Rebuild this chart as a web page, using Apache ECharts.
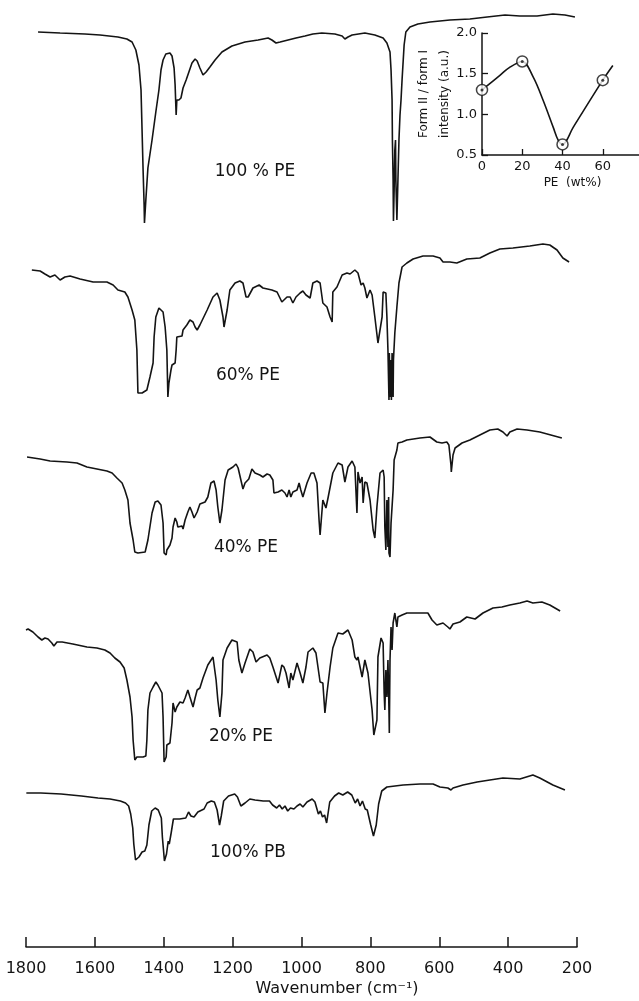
<!DOCTYPE html>
<html>
<head>
<meta charset="utf-8">
<script src="https://cdn.jsdelivr.net/npm/echarts@6/dist/echarts.min.js"></script>
<style>html,body{margin:0;padding:0;background:#fff}#c{width:639px;height:1001px}</style>
</head>
<body>
<div id="c"></div>
<script>
// ---- data: [wavenumber (cm-1), relative transmittance] ----
const wavenumberTicks = [1800, 1600, 1400, 1200, 1000, 800, 600, 400, 200];
const spectrumLabels = ['100 % PE', '60% PE', '40% PE', '20% PE', '100% PB'];

const pe100 = [[1765,99],[1701,98.5],[1629,98],[1585,97.5],[1533,96.5],[1507,95.5],[1492,94],[1481,90],[1472,82.5],[1466,70],[1463,50],[1460,30],[1457,12.5],[1456,3.5],[1452,15],[1446,31],[1434,45],[1423,59],[1414,70],[1408,80],[1402,85],[1394,88],[1382,88.5],[1376,87],[1370,81],[1367,72.5],[1364,57.5],[1362,65],[1356,65],[1350,66],[1344,71],[1335,75],[1327,79],[1318,83.5],[1309,85.5],[1303,84.5],[1295,81],[1286,77.5],[1277,79],[1266,81.5],[1251,85],[1231,89],[1202,92],[1164,94],[1126,95],[1097,96],[1086,95],[1074,93.5],[1062,94],[1039,95],[1016,96],[990,97],[967,98],[941,98.5],[903,98],[882,97],[874,95.5],[865,96.5],[853,97.5],[816,98.5],[787,97.5],[763,96],[752,93.5],[743,89],[740,80],[737,65],[736,45],[734,25],[733,4.5],[731,20],[729,40],[727,45],[726,25],[723,5],[720,25],[717,45],[714,57.5],[711,65],[708,75],[702,92.5],[697,99],[685,101.5],[662,103],[627,104],[569,105],[511,105.5],[461,106.5],[409,107.5],[366,107],[316,107],[270,108],[235,107.5],[206,106.5]];

const pe60 = [[1783,95],[1759,94.5],[1745,93],[1730,91.5],[1716,92.5],[1701,90],[1687,91.5],[1672,92],[1643,90.5],[1605,89],[1565,89],[1547,87.5],[1533,85],[1513,84],[1504,81.5],[1492,75],[1484,70],[1478,55],[1475,33.5],[1463,33.5],[1449,35],[1440,41.5],[1431,48.5],[1428,61.5],[1423,71.5],[1414,76],[1402,74],[1396,66.5],[1391,55],[1388,31.5],[1385,38.5],[1379,45],[1376,47.5],[1373,46.5],[1367,48.5],[1364,55],[1362,61.5],[1347,62],[1344,65],[1333,67.5],[1330,66.5],[1324,70],[1315,69],[1309,66.5],[1303,65],[1295,67.5],[1274,75],[1257,81.5],[1245,83.5],[1237,80],[1228,71.5],[1225,66.5],[1216,75],[1208,85],[1193,88.5],[1179,89.5],[1170,88.5],[1161,81.5],[1155,81.5],[1141,86],[1123,87.5],[1112,86],[1086,85],[1071,84],[1057,79],[1051,80],[1042,81.5],[1033,81.5],[1025,78.5],[1016,81.5],[1004,83.5],[996,84.5],[987,82.5],[975,81],[967,88.5],[955,89.5],[946,88.5],[938,78.5],[926,76.5],[917,71.5],[911,69],[909,84],[897,86.5],[882,92.5],[868,93.5],[859,93],[845,95],[836,93.5],[827,87.5],[821,88.5],[816,86],[810,81],[801,85],[795,82.5],[787,71.5],[778,58.5],[766,71.5],[763,84],[755,83.5],[752,71.5],[749,55],[746,30],[745,53.5],[743,31.5],[740,50],[739,30],[737,53.5],[734,31.5],[733,50],[729,63.5],[723,76.5],[717,88.5],[708,96.5],[694,98.5],[676,100.5],[647,102],[618,102],[598,101],[589,99],[569,99],[549,98.5],[520,100.5],[482,101],[453,103.5],[424,105.5],[386,106],[337,107],[299,108],[279,107.5],[258,105],[241,101],[223,99]];

const pe40 = [[1797,91.5],[1759,90.5],[1730,89.5],[1681,89],[1652,88.5],[1623,86.5],[1594,85.5],[1565,84.5],[1550,83.5],[1536,81],[1521,78.5],[1513,75],[1504,70],[1498,58.5],[1489,50],[1484,44],[1475,43.5],[1454,44],[1446,50],[1434,63.5],[1425,69],[1417,69.5],[1408,67.5],[1402,58.5],[1399,43.5],[1393,42.5],[1391,45],[1382,47.5],[1376,51],[1373,56.5],[1367,61],[1362,59],[1359,56.5],[1347,57],[1344,55.5],[1338,60],[1330,64],[1324,66.5],[1318,64],[1312,61],[1303,64],[1295,68],[1280,69],[1272,71.5],[1263,78.5],[1254,79.5],[1248,75],[1243,66.5],[1237,58.5],[1231,65],[1222,80],[1213,85],[1199,86.5],[1190,88],[1184,86],[1176,80],[1170,75.5],[1164,78.5],[1153,80.5],[1144,85.5],[1135,83.5],[1121,82.5],[1112,81.5],[1100,83],[1092,82.5],[1083,80],[1080,73.5],[1068,74],[1057,75],[1048,73.5],[1042,71.5],[1036,75],[1031,71.5],[1025,74],[1013,75],[1007,78.5],[1002,75],[996,71.5],[984,78.5],[972,83.5],[964,83.5],[955,78.5],[949,60],[946,52.5],[938,70],[929,66],[923,71],[909,83.5],[894,88.5],[882,87.5],[874,79],[865,86.5],[853,89.5],[845,86.5],[839,63.5],[836,84],[830,78.5],[824,81.5],[821,68.5],[816,79],[810,78.5],[801,70],[792,55],[787,51],[781,66.5],[772,83.5],[763,85],[760,81.5],[758,56.5],[755,45],[752,70],[749,46.5],[747,71.5],[746,43.5],[743,41.5],[740,58.5],[734,75],[731,90],[723,95],[720,98.5],[708,99],[694,100],[656,101],[627,101.5],[607,99],[592,98.5],[578,99],[572,97.5],[566,87.5],[565,84],[560,92.5],[554,96],[534,98.5],[511,100],[482,102.5],[453,105],[430,105.5],[415,104],[403,102],[395,104],[374,105.5],[345,105],[308,104],[244,101]];

const pe20 = [[1800,90],[1794,90.5],[1780,89],[1765,86.5],[1754,85],[1745,86],[1736,85.5],[1725,83.5],[1719,82],[1710,84],[1695,84],[1664,83],[1623,81.5],[1594,81],[1571,80],[1556,78.5],[1542,76],[1527,74],[1515,71],[1507,65],[1498,56.5],[1492,46.5],[1489,35],[1484,25],[1478,26.5],[1460,26.5],[1452,27],[1449,35],[1446,50],[1440,58.5],[1431,61.5],[1423,64],[1417,62.5],[1405,58.5],[1402,46.5],[1399,24],[1393,26.5],[1391,32.5],[1382,33.5],[1376,43.5],[1373,53.5],[1367,49],[1362,51.5],[1353,54],[1344,53.5],[1338,56],[1330,60],[1324,56.5],[1315,51.5],[1309,56],[1303,60],[1295,61],[1286,66],[1272,72.5],[1257,76.5],[1248,65],[1243,55],[1237,46.5],[1231,58.5],[1228,75],[1216,81],[1202,85],[1187,84],[1182,75],[1173,68.5],[1164,73.5],[1150,80.5],[1141,79],[1132,74],[1121,76],[1100,77.5],[1092,76],[1083,71.5],[1068,63.5],[1057,72.5],[1051,71.5],[1045,68.5],[1036,61],[1031,68.5],[1025,65],[1013,73.5],[1004,68.5],[996,63.5],[987,71.5],[981,79],[967,81],[958,78.5],[946,64],[938,63.5],[932,48.5],[926,58.5],[917,71.5],[909,81],[894,88.5],[880,88],[865,90],[853,85],[845,76.5],[839,75],[836,76.5],[824,66.5],[816,75],[807,68.5],[795,50],[790,37.5],[781,45],[778,76.5],[769,86],[763,83.5],[760,58.5],[758,50],[755,70],[752,56.5],[749,75],[746,50],[745,38.5],[743,75],[740,91.5],[737,80],[734,93.5],[729,98.5],[726,97.5],[723,91.5],[720,96.5],[708,97.5],[694,98.5],[665,98.5],[633,98.5],[621,95],[607,92.5],[589,93.5],[575,91.5],[569,90.5],[560,93],[540,94],[520,96.5],[496,95.5],[473,98.5],[444,101],[418,101.5],[395,102.5],[366,103.5],[345,104.5],[328,103.5],[302,104],[279,102.5],[249,99.5]];

const pb100 = [[1799,93.5],[1757,93.5],[1698,93],[1639,92],[1591,91],[1556,90.5],[1526,89.5],[1511,88.5],[1502,87],[1496,83],[1490,76],[1487,68],[1482,60],[1472,61.5],[1463,64],[1455,64.5],[1449,67.5],[1443,77.5],[1435,84.5],[1425,86],[1416,85],[1407,81],[1404,71.5],[1398,59.5],[1392,63],[1387,69.5],[1384,68],[1378,74],[1372,80.5],[1354,80.5],[1336,81],[1328,84],[1321,82],[1312,81.5],[1301,84],[1289,85],[1283,85.5],[1274,88.5],[1262,89.5],[1253,89],[1245,85],[1238,77.5],[1233,82],[1226,89.5],[1212,92],[1194,93],[1186,91.5],[1176,87],[1164,88.5],[1150,90.5],[1135,90],[1111,89.5],[1093,89.5],[1084,87.5],[1072,86],[1064,87.5],[1056,85.5],[1048,87],[1040,84.5],[1032,86],[1022,85.5],[1013,87],[1004,88],[996,86.5],[984,89],[969,90.5],[961,89],[951,83],[945,84.5],[939,81.5],[933,82.5],[927,78.5],[918,89],[904,92],[892,93.5],[880,92.5],[866,94],[854,92.5],[844,88.5],[837,90.5],[830,87],[823,89.5],[815,85.5],[809,85],[799,77.5],[791,72],[783,77.5],[776,88],[767,94.5],[752,96.5],[705,97.5],[656,98],[618,98],[598,96.5],[575,96],[566,95],[560,96],[531,97.5],[490,99],[453,100],[415,101],[366,100.5],[328,102.5],[308,101],[270,97.5],[235,95]];

// inset: Form II / form I intensity ratio vs PE content
const insetPE = [0, 20, 40, 60];
const insetRatio = [1.30, 1.65, 0.63, 1.42];
const insetFit = [[0,1.30],[8.9,1.48],[13.9,1.58],[20,1.65],[25.4,1.46],[30.4,1.17],[35.4,0.84],[37.9,0.68],[40,0.63],[45.3,0.84],[60,1.42],[65,1.60]];

// ---- layout ----
const spectra = [pe100, pe60, pe40, pe20, pb100];
const gridTops = [10, 240, 420, 590, 760];
const labelPos = [[255,172],[248,376],[246,548],[241,737],[248,853]];
const INK = '#141414';
const FONT = "'DejaVu Sans', 'Liberation Sans', sans-serif";

const grids = [], xAxes = [], yAxes = [], series = [], graphics = [];
spectra.forEach((d, i) => {
  grids.push({left: 26, width: 551, top: gridTops[i], height: 220});
  xAxes.push({type: 'value', gridIndex: i, min: 200, max: 1800, inverse: true, show: false});
  yAxes.push({type: 'value', gridIndex: i, min: 0, max: 110, show: false});
  series.push({type: 'line', xAxisIndex: i, yAxisIndex: i, data: d, showSymbol: false, symbol: 'none',
    lineStyle: {color: INK, width: 1.6}, silent: true, animation: false});
  graphics.push({type: 'text', x: labelPos[i][0], y: labelPos[i][1],
    style: {text: spectrumLabels[i], font: '17px ' + FONT, fill: INK, textAlign: 'center', textVerticalAlign: 'middle'}});
});

// axis grid (index 5)
grids.push({left: 26, width: 551, top: 900, height: 47});
xAxes.push({type: 'value', gridIndex: 5, min: 200, max: 1800, inverse: true, interval: 200,
  axisLine: {show: true, lineStyle: {color: INK, width: 1.5}},
  axisTick: {show: true, inside: true, length: 10, lineStyle: {color: INK, width: 1.5}},
  axisLabel: {show: true, margin: 14, fontSize: 16, fontFamily: FONT, color: INK,
    customValues: wavenumberTicks, formatter: v => String(v)},
  splitLine: {show: false}});
yAxes.push({type: 'value', gridIndex: 5, min: 0, max: 1, show: false});
graphics.push({type: 'text', x: 337, y: 989,
  style: {text: 'Wavenumber (cm⁻¹)', font: '16px ' + FONT, fill: INK, textAlign: 'center', textVerticalAlign: 'middle'}});

// inset grid (index 6)
grids.push({left: 482, top: 33, width: 157, height: 122});
xAxes.push({type: 'value', gridIndex: 6, min: 0, max: 78,
  axisLine: {show: true, lineStyle: {color: INK, width: 1.5}},
  axisTick: {show: true, inside: true, length: 6, customValues: insetPE, lineStyle: {color: INK, width: 1.3}},
  axisLabel: {show: true, margin: 5, fontSize: 13, fontFamily: FONT, color: INK, customValues: insetPE},
  splitLine: {show: false},
  name: 'PE  (wt%)', nameLocation: 'middle', nameGap: 22, nameMoveOverlap: false,
  nameTextStyle: {fontSize: 12, fontFamily: FONT, color: INK, padding: [0, 0, 0, 24]}});
yAxes.push({type: 'value', gridIndex: 6, min: 0.5, max: 2.0, interval: 0.5,
  axisLine: {show: true, lineStyle: {color: INK, width: 1.5}},
  axisTick: {show: true, inside: true, length: 6, lineStyle: {color: INK, width: 1.3}},
  axisLabel: {show: true, margin: 5, fontSize: 13, fontFamily: FONT, color: INK, formatter: v => v.toFixed(1)},
  splitLine: {show: false},
  name: 'Form II / form I\nintensity (a.u.)', nameLocation: 'middle', nameGap: 27, nameRotate: 90, nameMoveOverlap: false,
  nameTextStyle: {fontSize: 12, fontFamily: FONT, color: INK, lineHeight: 21}});
series.push({type: 'line', xAxisIndex: 6, yAxisIndex: 6, data: insetFit, smooth: 0.35, showSymbol: false, symbol: 'none',
  lineStyle: {color: INK, width: 1.6}, silent: true, animation: false, z: 3});
const insetPts = insetPE.map((p, k) => [p, insetRatio[k]]);
series.push({type: 'scatter', xAxisIndex: 6, yAxisIndex: 6, data: insetPts, symbol: 'circle', symbolSize: 11,
  itemStyle: {color: '#fff', borderColor: INK, borderWidth: 1.5}, silent: true, animation: false, z: 4});
series.push({type: 'scatter', xAxisIndex: 6, yAxisIndex: 6, data: insetPts, symbol: 'circle', symbolSize: 3,
  itemStyle: {color: INK}, silent: true, animation: false, z: 5});

const chart = echarts.init(document.getElementById('c'), null, {renderer: 'canvas'});
chart.setOption({
  backgroundColor: '#fff',
  animation: false,
  grid: grids, xAxis: xAxes, yAxis: yAxes, series: series,
  graphic: graphics
});
</script>
</body>
</html>
